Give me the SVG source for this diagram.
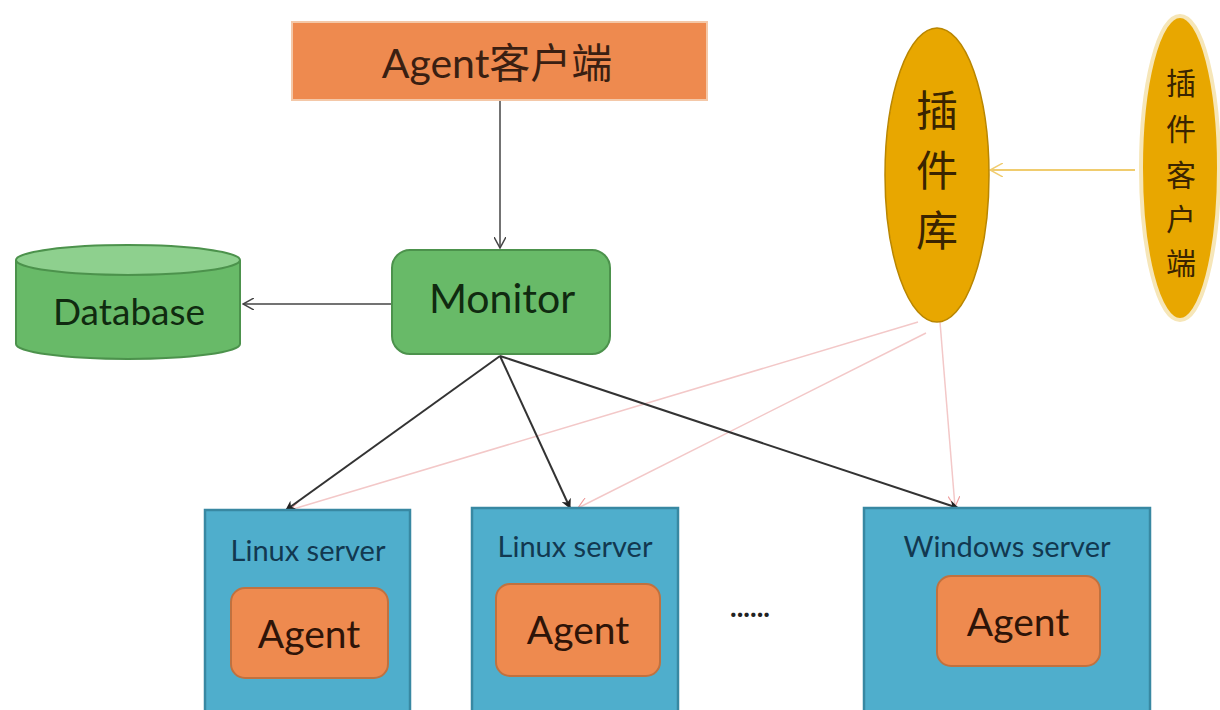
<svg xmlns="http://www.w3.org/2000/svg" width="1220" height="710" viewBox="0 0 1220 710">
<style>
.t{font-family:Lato,"Noto Sans","Noto Sans CJK SC",sans-serif;text-anchor:middle;dominant-baseline:central}
.orange{fill:#EE8A4F;stroke:#C0713F;stroke-width:2}
.green{fill:#68BA68;stroke:#4C924C;stroke-width:2}
.blue{fill:#4FAECC;stroke:#3888A2;stroke-width:2.5}
.gold{fill:#E8A700;stroke:#B98600;stroke-width:1.5}
.dark{stroke:#333;stroke-width:2;fill:none}
.pink{stroke:#F3C8C8;stroke-width:1.5;fill:none}
</style>
<defs>
<marker id="ab" markerWidth="10" markerHeight="10" refX="9" refY="5" orient="auto" markerUnits="userSpaceOnUse"><path d="M0,0 L10,5 L0,10 L3,5 Z" fill="#222"/></marker>
<marker id="ao" markerWidth="12" markerHeight="12" refX="11" refY="6" orient="auto" markerUnits="userSpaceOnUse"><path d="M0,0 L11,6 L0,12" fill="none" stroke="#444" stroke-width="1.5"/></marker>
<marker id="ap" markerWidth="12" markerHeight="12" refX="11" refY="6" orient="auto" markerUnits="userSpaceOnUse"><path d="M0,0 L11,6 L0,12" fill="none" stroke="#EFA0A0" stroke-width="1.2"/></marker>
<marker id="ay" markerWidth="14" markerHeight="14" refX="13" refY="7" orient="auto" markerUnits="userSpaceOnUse"><path d="M0,0 L13,7 L0,14" fill="none" stroke="#F0CC6E" stroke-width="1.5"/></marker>
</defs>
<rect width="1220" height="710" fill="#fff"/>
<g id="connectors">
<line class="pink" x1="918" y1="322" x2="290" y2="510" marker-end="url(#ap)"/>
<line class="pink" x1="926" y1="333" x2="578" y2="508" marker-end="url(#ap)"/>
<line class="pink" x1="940" y1="322" x2="955" y2="507" marker-end="url(#ap)"/>
<line x1="500" y1="100" x2="500" y2="248" stroke="#444" stroke-width="1.5" marker-end="url(#ao)"/>
<line x1="392" y1="304" x2="243" y2="304" stroke="#444" stroke-width="1.5" marker-end="url(#ao)"/>
<line class="dark" x1="500" y1="356" x2="286" y2="510" marker-end="url(#ab)"/>
<line class="dark" x1="500" y1="356" x2="570" y2="508" marker-end="url(#ab)"/>
<line class="dark" x1="500" y1="356" x2="958" y2="508" marker-end="url(#ab)"/>
<line x1="1135" y1="170" x2="990" y2="170" stroke="#F0CC6E" stroke-width="2" marker-end="url(#ay)"/>
</g>
<g id="agent-client">
<rect x="292" y="22" width="415" height="78" fill="#EE8A4F" stroke="#F4C8A8" stroke-width="2"/>
<text class="t" x="497" y="62" font-size="41" fill="#3A1F12">Agent客户端</text>
</g>
<g id="monitor">
<rect class="green" x="392" y="250" width="218" height="104" rx="18"/>
<text class="t" x="502" y="297" font-size="41" fill="#102A10">Monitor</text>
</g>
<g id="database">
<path class="green" d="M16,260 L16,344 A112,15 0 0 0 240,344 L240,260"/>
<ellipse cx="128" cy="260" rx="112" ry="15" fill="#8ED08E" stroke="#4C924C" stroke-width="2"/>
<text class="t" x="129" y="310" font-size="37" fill="#102A10">Database</text>
</g>
<g id="plugin-repo">
<ellipse class="gold" cx="937" cy="175" rx="52" ry="147"/>
<text class="t" x="937" y="110" font-size="42" fill="#3A2400">插</text>
<text class="t" x="937" y="170" font-size="42" fill="#3A2400">件</text>
<text class="t" x="937" y="230" font-size="42" fill="#3A2400">库</text>
</g>
<g id="plugin-client">
<ellipse cx="1180" cy="168" rx="39" ry="152" fill="#E8A700" stroke="#F6E6B8" stroke-width="4"/>
<text class="t" x="1181" y="82" font-size="30" fill="#3A2400">插</text>
<text class="t" x="1181" y="128" font-size="30" fill="#3A2400">件</text>
<text class="t" x="1181" y="174" font-size="30" fill="#3A2400">客</text>
<text class="t" x="1181" y="218" font-size="30" fill="#3A2400">户</text>
<text class="t" x="1181" y="262" font-size="30" fill="#3A2400">端</text>
</g>
<g id="linux-server-1">
<rect class="blue" x="205" y="510" width="205" height="210"/>
<text class="t" x="308" y="549" font-size="29" fill="#123850">Linux server</text>
<rect class="orange" x="231" y="588" width="157" height="90" rx="14"/>
<text class="t" x="309" y="633" font-size="39" fill="#2E1408">Agent</text>
</g>
<g id="linux-server-2">
<rect class="blue" x="472" y="508" width="206" height="212"/>
<text class="t" x="575" y="545" font-size="29" fill="#123850">Linux server</text>
<rect class="orange" x="496" y="584" width="164" height="92" rx="14"/>
<text class="t" x="578" y="629" font-size="39" fill="#2E1408">Agent</text>
</g>
<g id="windows-server">
<rect class="blue" x="864" y="508" width="286" height="212"/>
<text class="t" x="1007" y="545" font-size="29" fill="#123850">Windows server</text>
<rect class="orange" x="937" y="576" width="163" height="90" rx="14"/>
<text class="t" x="1018" y="621" font-size="39" fill="#2E1408">Agent</text>
</g>
<g id="ellipsis">
<text class="t" x="750" y="606" font-size="28" font-weight="bold" fill="#222">......</text>
</g>
</svg>
